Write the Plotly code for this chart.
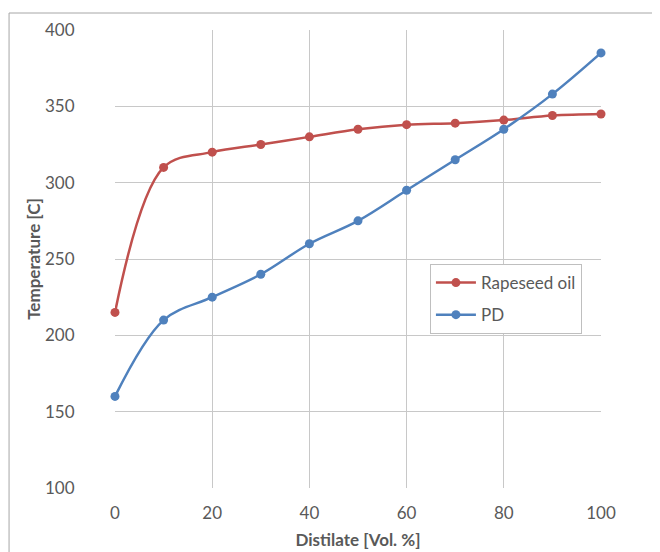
import plotly.graph_objects as go

distillate = [0, 10, 20, 30, 40, 50, 60, 70, 80, 90, 100]
rapeseed = [215, 310, 320, 325, 330, 335, 338, 339, 341, 344, 345]
pd_vals = [160, 210, 225, 240, 260, 275, 295, 315, 335, 358, 385]

FONT = "Lato, Open Sans, sans-serif"
GREY = "#595959"
fig = go.Figure()
fig.add_trace(go.Scatter(x=distillate, y=rapeseed, name="Rapeseed oil", mode="lines+markers",
                         legendgroup="a", cliponaxis=False,
                         line=dict(color="#c0504d", width=2.5, shape="spline", smoothing=1.0),
                         marker=dict(size=9, color="#c0504d")))
fig.add_trace(go.Scatter(x=distillate, y=pd_vals, name="PD", mode="lines+markers",
                         legendgroup="b", cliponaxis=False,
                         line=dict(color="#4f81bd", width=2.5, shape="spline", smoothing=1.0),
                         marker=dict(size=9, color="#4f81bd")))

fig.update_layout(
    width=660, height=552,
    margin=dict(l=107, r=67, t=22, b=72, autoexpand=False),
    paper_bgcolor="white", plot_bgcolor="white",
    font=dict(family=FONT, size=17, color=GREY),
    showlegend=True,
    legend=dict(x=0.648, y=0.489, xanchor="left", yanchor="top",
                bordercolor="#bfbfbf", borderwidth=1, bgcolor="white",
                font=dict(size=17, color=GREY), tracegroupgap=7,
                itemwidth=40),
    xaxis=dict(range=[0, 100], dtick=20, showgrid=True, gridcolor="#c8c8c8", gridwidth=1,
               zeroline=False, showline=False, ticks="outside", ticklen=10, tickcolor="rgba(0,0,0,0)",
               automargin=False,
               title=dict(text="<b>Distilate [Vol. %]</b>", standoff=11, font=dict(size=17, color=GREY))),
    yaxis=dict(range=[100, 400], dtick=50, showgrid=True, gridcolor="#c8c8c8", gridwidth=1,
               zeroline=False, showline=False, ticks="outside", ticklen=36, tickcolor="rgba(0,0,0,0)",
               automargin=False,
               title=dict(text="<b>Temperature [C]</b>", standoff=0, font=dict(size=17, color=GREY))),
    shapes=[dict(type="rect", xref="paper", yref="paper", x0=-0.218, x1=1.3, y0=-0.3, y1=1.0371,
                 line=dict(color="#a6a6a6", width=1), fillcolor="rgba(0,0,0,0)", layer="below")],
)
fig.write_html("out.html")
